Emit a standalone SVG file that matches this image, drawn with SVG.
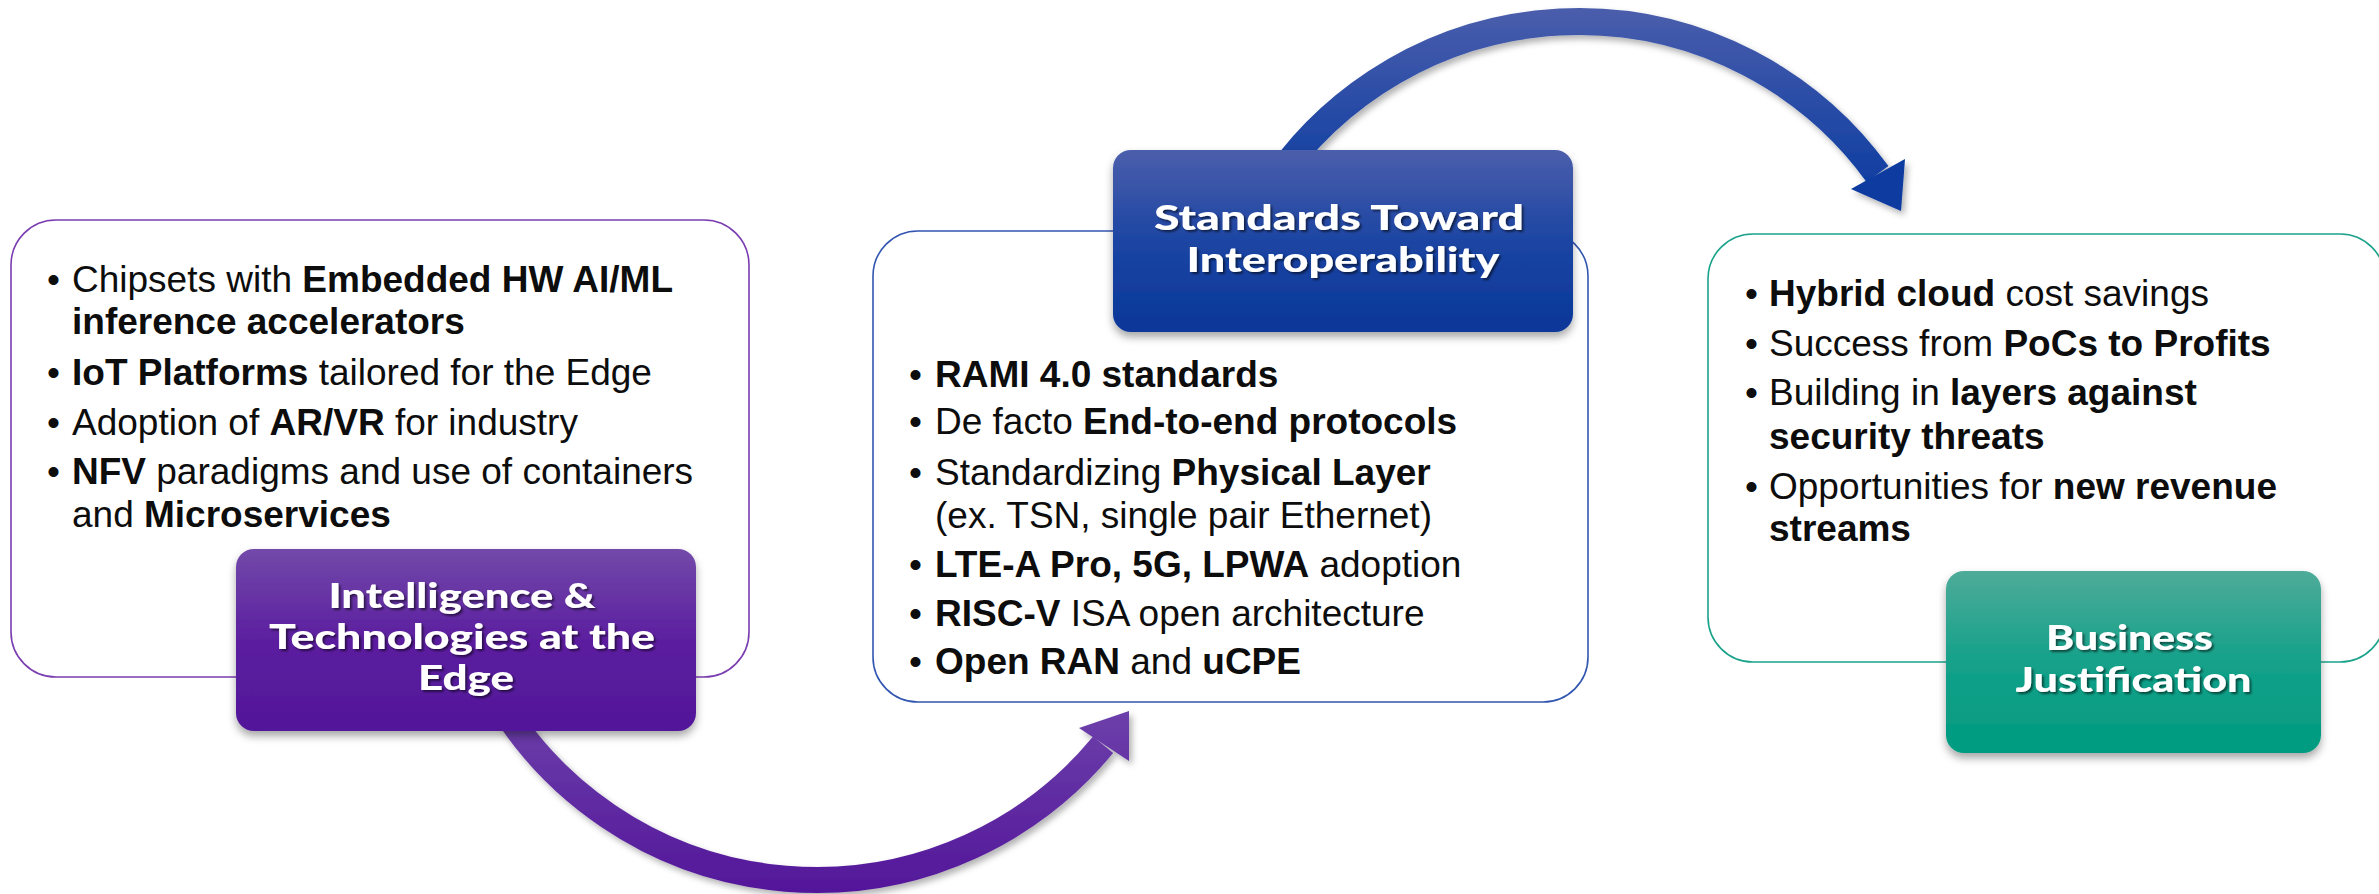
<svg xmlns="http://www.w3.org/2000/svg" width="2379" height="894" viewBox="0 0 2379 894">
  <defs>
    <linearGradient id="gPurple" x1="0" y1="0" x2="0" y2="1">
      <stop offset="0" stop-color="#7249a9"/>
      <stop offset="0.5" stop-color="#5c1fa0"/>
      <stop offset="1" stop-color="#511699"/>
    </linearGradient>
    <linearGradient id="gBlue" x1="0" y1="0" x2="0" y2="1">
      <stop offset="0" stop-color="#4b5eab"/>
      <stop offset="0.5" stop-color="#1c45a3"/>
      <stop offset="1" stop-color="#093799"/>
    </linearGradient>
    <linearGradient id="gGreen" x1="0" y1="0" x2="0" y2="1">
      <stop offset="0" stop-color="#4eab99"/>
      <stop offset="0.5" stop-color="#14a18a"/>
      <stop offset="1" stop-color="#009b80"/>
    </linearGradient>
    <linearGradient id="gArrowBlue" gradientUnits="userSpaceOnUse" x1="0" y1="0" x2="0" y2="210">
      <stop offset="0" stop-color="#4d5fac"/>
      <stop offset="1" stop-color="#0639a0"/>
    </linearGradient>
    <linearGradient id="gArrowPurple" gradientUnits="userSpaceOnUse" x1="0" y1="700" x2="0" y2="890">
      <stop offset="0" stop-color="#6e42ab"/>
      <stop offset="1" stop-color="#53179a"/>
    </linearGradient>
    <filter id="boxShadow" x="-10%" y="-10%" width="120%" height="130%">
      <feDropShadow dx="0" dy="5" stdDeviation="4" flood-color="#000" flood-opacity="0.35"/>
    </filter>
    <filter id="arrowShadow" x="-10%" y="-10%" width="120%" height="130%">
      <feDropShadow dx="3" dy="4" stdDeviation="3" flood-color="#000" flood-opacity="0.3"/>
    </filter>
    <filter id="textShadow" x="-10%" y="-20%" width="120%" height="150%">
      <feDropShadow dx="2" dy="2" stdDeviation="1.2" flood-color="#000" flood-opacity="0.55"/>
    </filter>
  </defs>
  <style>
    .panel { fill: #ffffff; stroke-width: 1.6; }
    .label { filter: url(#boxShadow); }
    .title { font-family: Lato, "Noto Sans", "DejaVu Sans", sans-serif; font-weight: 900; font-size: 34px; fill: #ffffff; text-anchor: middle; filter: url(#textShadow); }
    .body { font-family: "Liberation Sans", Arial, sans-serif; font-size: 37px; fill: #0d0d0d; }
    .b { font-weight: bold; }
    .shaft { fill: none; }
  </style>

  <rect width="2379" height="894" fill="#ffffff"/>

  <!-- curved arrows between the panels -->
  <g id="connectors">
    <g filter="url(#arrowShadow)">
      <path class="shaft" d="M494.9,694.3 A371.4,371.4 0 0 0 1103.1,744.8" stroke="url(#gArrowPurple)" stroke-width="26"/>
      <polygon points="1129,711 1079,728 1129,761" fill="url(#gArrowPurple)"/>
    </g>
    <g filter="url(#arrowShadow)">
      <path class="shaft" d="M1259.4,205.9 A368.8,368.8 0 0 1 1877.5,174" stroke="url(#gArrowBlue)" stroke-width="27"/>
      <polygon points="1901,211 1905,159 1851,189" fill="#0a3a9f"/>
    </g>
  </g>

  <!-- panel 1: intelligence at the edge -->
  <g id="node-edge">
    <rect class="panel" x="11" y="220" width="738" height="457" rx="45" stroke="#7a3db0"/>
    <text class="body">
      <tspan x="47" y="292">•</tspan><tspan x="72" y="292">Chipsets with <tspan class="b">Embedded HW AI/ML</tspan></tspan>
      <tspan x="72" y="334" class="b">inference accelerators</tspan>
      <tspan x="47" y="385">•</tspan><tspan x="72" y="385"><tspan class="b">IoT Platforms</tspan> tailored for the Edge</tspan>
      <tspan x="47" y="435">•</tspan><tspan x="72" y="435">Adoption of <tspan class="b">AR/VR</tspan> for industry</tspan>
      <tspan x="47" y="484">•</tspan><tspan x="72" y="484"><tspan class="b">NFV</tspan> paradigms and use of containers</tspan>
      <tspan x="72" y="527">and <tspan class="b">Microservices</tspan></tspan>
    </text>
    <rect class="label" x="236" y="549" width="460" height="182" rx="18" fill="url(#gPurple)"/>
    <text class="title">
      <tspan x="466" y="608" textLength="267" lengthAdjust="spacingAndGlyphs">Intelligence &amp;</tspan>
      <tspan x="466" y="649" textLength="386" lengthAdjust="spacingAndGlyphs">Technologies at the</tspan>
      <tspan x="466" y="690" textLength="96" lengthAdjust="spacingAndGlyphs">Edge</tspan>
    </text>
  </g>

  <!-- panel 2: standards -->
  <g id="node-standards">
    <rect class="panel" x="873" y="231" width="715" height="471" rx="45" stroke="#3256b0"/>
    <text class="body">
      <tspan x="909" y="387">•</tspan><tspan x="935" y="387" class="b">RAMI 4.0 standards</tspan>
      <tspan x="909" y="434">•</tspan><tspan x="935" y="434">De facto <tspan class="b">End-to-end protocols</tspan></tspan>
      <tspan x="909" y="485">•</tspan><tspan x="935" y="485">Standardizing <tspan class="b">Physical Layer</tspan></tspan>
      <tspan x="935" y="528">(ex. TSN, single pair Ethernet)</tspan>
      <tspan x="909" y="577">•</tspan><tspan x="935" y="577"><tspan class="b">LTE-A Pro, 5G, LPWA</tspan> adoption</tspan>
      <tspan x="909" y="626">•</tspan><tspan x="935" y="626"><tspan class="b">RISC-V</tspan> ISA open architecture</tspan>
      <tspan x="909" y="674">•</tspan><tspan x="935" y="674"><tspan class="b">Open RAN</tspan> and <tspan class="b">uCPE</tspan></tspan>
    </text>
    <rect class="label" x="1113" y="150" width="460" height="182" rx="18" fill="url(#gBlue)"/>
    <text class="title">
      <tspan x="1343" y="230" textLength="370" lengthAdjust="spacingAndGlyphs">Standards Toward</tspan>
      <tspan x="1343" y="272" textLength="313" lengthAdjust="spacingAndGlyphs">Interoperability</tspan>
    </text>
  </g>

  <!-- panel 3: business case -->
  <g id="node-business">
    <rect class="panel" x="1708" y="234" width="677" height="428" rx="45" stroke="#1ba28b"/>
    <text class="body">
      <tspan x="1745" y="306">•</tspan><tspan x="1769" y="306"><tspan class="b">Hybrid cloud</tspan> cost savings</tspan>
      <tspan x="1745" y="356">•</tspan><tspan x="1769" y="356">Success from <tspan class="b">PoCs to Profits</tspan></tspan>
      <tspan x="1745" y="405">•</tspan><tspan x="1769" y="405">Building in <tspan class="b">layers against</tspan></tspan>
      <tspan x="1769" y="449" class="b">security threats</tspan>
      <tspan x="1745" y="499">•</tspan><tspan x="1769" y="499">Opportunities for <tspan class="b">new revenue</tspan></tspan>
      <tspan x="1769" y="541" class="b">streams</tspan>
    </text>
    <rect class="label" x="1946" y="571" width="375" height="182" rx="18" fill="url(#gGreen)"/>
    <text class="title">
      <tspan x="2133.5" y="650" textLength="167" lengthAdjust="spacingAndGlyphs">Business</tspan>
      <tspan x="2133.5" y="692" textLength="236" lengthAdjust="spacingAndGlyphs">Justification</tspan>
    </text>
  </g>
</svg>
